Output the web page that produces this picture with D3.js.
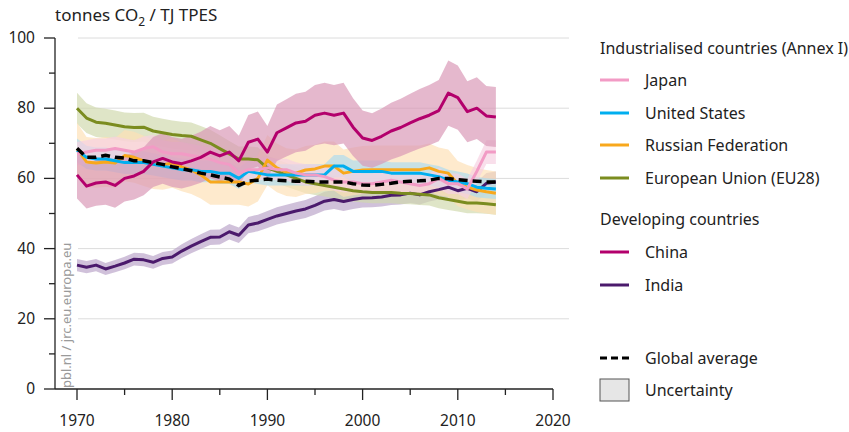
<!DOCTYPE html>
<html>
<head>
<meta charset="utf-8">
<script src="https://cdn.jsdelivr.net/npm/d3@7"></script>
<style>
  body { margin: 0; background: #fff; }
  svg { display: block; font-family: "Noto Sans", "Open Sans", sans-serif; }
</style>
</head>
<body>
<svg id="chart" width="849" height="432"></svg>
<script>
// years 1970-2014
const years = d3.range(1970, 2015);

const japan = [67, 67.5, 68, 68, 68.5, 68, 67.5, 68.5, 69, 67.5, 67, 67, 66.5, 66, 65.5, 64.5, 64, 61.5, 62.5, 62.5,
  63, 62.5, 62.5, 61.5, 61, 61, 60.5, 59.5, 59, 59, 58.5, 58.5, 59, 59.5, 59, 58.5, 58, 58.5, 60, 58.5,
  58.5, 57, 62, 67.5, 67.5];
const unitedStates = [68, 66, 65.5, 65.5, 65, 64.5, 64.5, 64.5, 64, 63.5, 63, 62.5, 62.5, 62, 62, 61.5, 61.5, 60, 62, 61.5,
  61, 61, 61, 61, 61, 61, 61, 63.5, 63.5, 62, 62, 62, 62, 61.5, 61.5, 61.5, 61.5, 61, 60.5, 59.5,
  59, 58.5, 57.5, 57.2, 57];
const russia = [68.4, 64.7, 64.4, 64.7, 64.4, 66.5, 66, 65, 64, 63.8, 64.4, 63.3, 62.4, 61, 59, 59, 59, 59, 58.4, 60,
  65.2, 63, 61.8, 61.5, 62.4, 62.7, 63.5, 63.5, 61.5, 62, 62.4, 62.5, 62.5, 62.5, 62.5, 62.5, 62.5, 63, 62, 61.5,
  58.5, 57.5, 56.7, 56.2, 55.8];
const eu28 = [80, 77.2, 76, 75.7, 75.2, 74.7, 74.5, 74.6, 73.5, 73, 72.5, 72.2, 72, 71, 70, 68.5, 67, 65.5, 65.5, 65.3,
  63, 62, 61, 60, 59, 58.5, 58, 57.5, 57, 56.5, 56.2, 56, 56, 56, 55.8, 55.7, 55.5, 55.3, 54.5, 54,
  53.5, 53, 53, 52.8, 52.5];
const china = [61, 57.8, 58.7, 59, 58, 60, 60.7, 62, 64.7, 65.7, 64.7, 64.2, 65, 66, 67.5, 66.4, 67.5, 65, 70.3, 71.2,
  67.5, 73, 74.4, 75.8, 76.3, 78, 78.6, 78, 78.6, 74.6, 71.5, 70.8, 72, 73.5, 74.5, 75.8, 77, 78, 79.3, 84.3,
  83, 79, 80, 77.8, 77.5];
const india = [35.3, 34.7, 35.3, 34.2, 35, 35.9, 37, 36.8, 36.1, 37.2, 37.6, 39.3, 40.7, 42, 43.2, 43.3, 44.8, 43.8, 46.7, 47.3,
  48.3, 49.3, 50, 50.7, 51.3, 52.3, 53.5, 54, 53.4, 54, 54.4, 54.5, 54.7, 55.2, 55.3, 55.8, 55.3, 56.2, 56.8, 57.5,
  56.5, 57.2, 56.2, 58.6, 59];
const globalAvg = [68.6, 66, 66, 66.6, 66, 65.8, 65, 65, 64.5, 64, 63.3, 62.8, 62.2, 61.5, 61, 60.4, 59.8, 58, 59.2, 59.5,
  59.8, 59.5, 59.3, 59.2, 59.2, 59, 59, 59, 59, 58.5, 58.1, 58, 58.3, 58.6, 59, 59.2, 59.3, 59.5, 60, 60,
  59.6, 59.4, 59.2, 59, 59];

// relative uncertainty (half width) per country
const uncertainty = { japan: 0.05, us: 0.05, russia: 0.11, eu: 0.055, china: 0.11, india: 0.05 };

const seriesList = [
  { key: 'india', name: 'India', values: india, color: '#4b1a6c', band: '#b9a4c9' },
  { key: 'eu', name: 'European Union (EU28)', values: eu28, color: '#7b8c1f', band: '#d0d8ac' },
  { key: 'russia', name: 'Russian Federation', values: russia, color: '#f8a81c', band: '#fde0b5' },
  { key: 'us', name: 'United States', values: unitedStates, color: '#00aeef', band: '#acdcef' },
  { key: 'japan', name: 'Japan', values: japan, color: '#f29bc5', band: '#f6d0e1' },
  { key: 'china', name: 'China', values: china, color: '#b3006c', band: '#d897b5' }
];

const yTicks = [0, 20, 40, 60, 80, 100];
const xTicks = [1970, 1980, 1990, 2000, 2010, 2020];

const svg = d3.select('#chart');
const textColor = '#222';

const x = d3.scaleLinear().domain([1970, 2020]).range([77, 553]);
const y = d3.scaleLinear().domain([0, 100]).range([389, 38]);

// gridlines
svg.append('g')
  .selectAll('line')
  .data(yTicks.filter(d => d > 0))
  .join('line')
  .attr('x1', 78).attr('x2', 569)
  .attr('y1', d => y(d)).attr('y2', d => y(d))
  .attr('stroke', '#dcdcdc').attr('stroke-width', 1);

// bands
const bandGroup = svg.append('g');
seriesList.forEach(s => {
  const u = uncertainty[s.key];
  const area = d3.area()
    .x((d, i) => x(years[i]))
    .y0(d => y(d * (1 - u)))
    .y1(d => y(d * (1 + u)));
  bandGroup.append('path')
    .datum(s.values)
    .attr('d', area)
    .attr('fill', s.band)
    .attr('fill-opacity', 0.68)
    .attr('stroke', 'none');
});

// lines
const line = d3.line().x((d, i) => x(years[i])).y(d => y(d));
seriesList.forEach(s => {
  svg.append('path')
    .datum(s.values)
    .attr('d', line)
    .attr('fill', 'none')
    .attr('stroke', s.color)
    .attr('stroke-width', 3)
    .attr('stroke-linejoin', 'round');
});
svg.append('path')
  .datum(globalAvg)
  .attr('d', line)
  .attr('fill', 'none')
  .attr('stroke', '#000')
  .attr('stroke-width', 3.5)
  .attr('stroke-dasharray', '9,5');

// y axis
svg.append('line').attr('x1', 55).attr('x2', 55).attr('y1', y(100)).attr('y2', y(0))
  .attr('stroke', textColor).attr('stroke-width', 1.3);
svg.append('g').selectAll('line')
  .data(d3.range(0, 101, 10))
  .join('line')
  .attr('x1', d => d % 20 === 0 ? 44 : 49).attr('x2', 55)
  .attr('y1', d => y(d)).attr('y2', d => y(d))
  .attr('stroke', textColor).attr('stroke-width', 1.3);
svg.append('g').selectAll('text')
  .data(yTicks)
  .join('text')
  .attr('x', 35).attr('y', d => y(d) + 5)
  .attr('text-anchor', 'end')
  .attr('font-size', 15.5).attr('fill', textColor)
  .text(d => d);

// x axis
svg.append('line').attr('x1', 55).attr('x2', x(2020)).attr('y1', 389).attr('y2', 389)
  .attr('stroke', textColor).attr('stroke-width', 1.3);
svg.append('g').selectAll('line')
  .data(d3.range(1970, 2021, 5))
  .join('line')
  .attr('x1', d => x(d)).attr('x2', d => x(d))
  .attr('y1', 389).attr('y2', d => d % 10 === 0 ? 400 : 395)
  .attr('stroke', textColor).attr('stroke-width', 1.3);
svg.append('g').selectAll('text')
  .data(xTicks)
  .join('text')
  .attr('x', d => x(d)).attr('y', 426)
  .attr('text-anchor', 'middle')
  .attr('font-size', 15.5).attr('fill', textColor)
  .text(d => d);

// unit title
const title = svg.append('text').attr('x', 55).attr('y', 21)
  .attr('font-size', 17).attr('fill', textColor);
title.append('tspan').text('tonnes CO');
title.append('tspan').attr('font-size', 12).attr('dy', 5).text('2');
title.append('tspan').attr('dy', -5).text(' / TJ TPES');

// watermark
svg.append('text')
  .attr('transform', 'translate(71,388) rotate(-90)')
  .attr('font-size', 13).attr('fill', '#9a9a9a')
  .text('pbl.nl / jrc.eu.europa.eu');

// legend
const legend = svg.append('g').attr('font-size', 16).attr('fill', textColor);
const lx = 600;
legend.append('text').attr('x', lx).attr('y', 54).text('Industrialised countries (Annex I)');
legend.append('text').attr('x', lx).attr('y', 225).text('Developing countries');

const legendItems = [
  { s: seriesList.find(d => d.key === 'japan'), y: 80 },
  { s: seriesList.find(d => d.key === 'us'), y: 113 },
  { s: seriesList.find(d => d.key === 'russia'), y: 145 },
  { s: seriesList.find(d => d.key === 'eu'), y: 178 },
  { s: seriesList.find(d => d.key === 'china'), y: 252 },
  { s: seriesList.find(d => d.key === 'india'), y: 285 }
];
legendItems.forEach(item => {
  legend.append('line')
    .attr('x1', lx).attr('x2', lx + 29).attr('y1', item.y).attr('y2', item.y)
    .attr('stroke', item.s.color).attr('stroke-width', 3);
  legend.append('text').attr('x', lx + 45).attr('y', item.y + 5.5).text(item.s.name);
});

legend.append('line')
  .attr('x1', lx).attr('x2', lx + 29).attr('y1', 358).attr('y2', 358)
  .attr('stroke', '#000').attr('stroke-width', 3).attr('stroke-dasharray', '7,4');
legend.append('text').attr('x', lx + 45).attr('y', 363.5).text('Global average');

legend.append('rect')
  .attr('x', lx).attr('y', 379).attr('width', 29).attr('height', 22)
  .attr('fill', '#e6e6e6').attr('stroke', '#555').attr('stroke-width', 1);
legend.append('text').attr('x', lx + 45).attr('y', 396).text('Uncertainty');
</script>
</body>
</html>
